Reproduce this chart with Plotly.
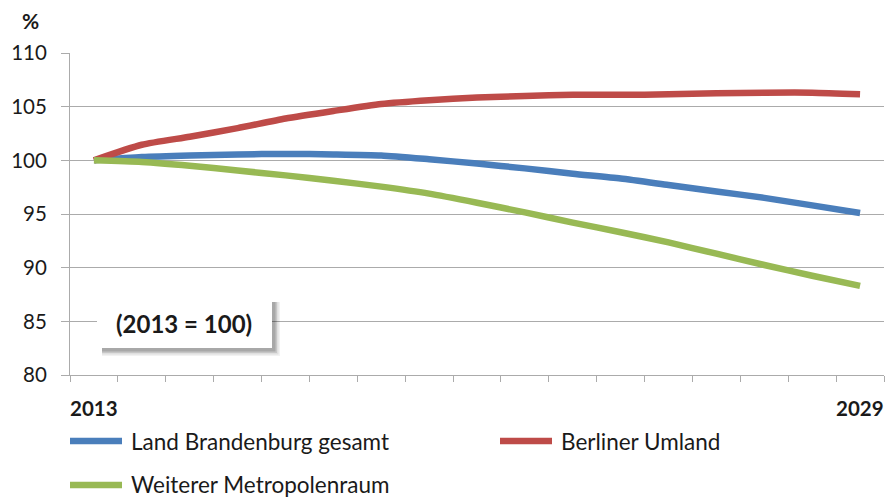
import plotly.graph_objects as go

# Population index by region, 2013 = 100
years = list(range(2013, 2030))
series_names = ["Land Brandenburg gesamt", "Berliner Umland", "Weiterer Metropolenraum"]
brandenburg = [100.0, 100.3, 100.45, 100.55, 100.6, 100.55, 100.45, 100.1, 99.7,
               99.25, 98.75, 98.3, 97.7, 97.1, 96.5, 95.8, 95.1]
umland = [100.0, 101.45, 102.2, 103.0, 103.9, 104.6, 105.25, 105.6, 105.85,
          106.0, 106.1, 106.1, 106.15, 106.25, 106.3, 106.3, 106.15]
metropolenraum = [100.0, 99.85, 99.5, 99.05, 98.6, 98.1, 97.55, 96.9, 96.05,
                  95.15, 94.2, 93.3, 92.35, 91.3, 90.25, 89.25, 88.3]
colors = ["#4A7EBB", "#BE4B48", "#98B954"]
y_ticks = [80, 85, 90, 95, 100, 105, 110]
x_labels = {2013: "2013", 2029: "2029"}
note_text = "(2013 = 100)"

FONT = "Lato, Carlito, 'Open Sans', sans-serif"
TEXT = "#1a1a1a"
GRID = "#ababab"

W, H = 887, 497
L, R, T, B = 70, 3, 53, 122
PW, PH = W - L - R, H - T - B


def px(x):
    return (x - L) / PW


def py(y):
    return (H - B - y) / PH


fig = go.Figure()
for name, vals, col in zip(series_names, [brandenburg, umland, metropolenraum], colors):
    fig.add_trace(go.Scatter(
        x=years, y=vals, mode="lines", name=name,
        line=dict(color=col, width=6.5, shape="spline", smoothing=0.6),
        showlegend=False, hoverinfo="x+y+name",
    ))

shapes = []
annotations = []

# legend drawn as swatches + labels
legend_pos = [(70, 441), (500, 441), (70, 485)]
for (lx, ly), name, col in zip(legend_pos, series_names, colors):
    shapes.append(dict(type="line", xref="paper", yref="paper",
                       x0=px(lx), x1=px(lx + 52), y0=py(ly), y1=py(ly),
                       line=dict(color=col, width=6.5)))
    annotations.append(dict(xref="paper", yref="paper", x=px(lx + 59), y=py(ly),
                            xanchor="left", yanchor="middle", showarrow=False,
                            text=name, font=dict(family=FONT, size=22.5, color=TEXT)))

# category labels at both ends of the axis
for yr, lab in x_labels.items():
    annotations.append(dict(xref="x", yref="paper", x=yr, y=py(408),
                            xanchor="center", yanchor="middle", showarrow=False,
                            text=f"<b>{lab}</b>", font=dict(family=FONT, size=20.5, color=TEXT)))

# unit label
annotations.append(dict(xref="paper", yref="paper", x=px(30), y=py(20),
                        xanchor="center", yanchor="middle", showarrow=False,
                        text="<b>%</b>", font=dict(family=FONT, size=21, color=TEXT)))

# base-year note box with a soft drop shadow
bx0, bx1, by0, by1 = 97, 272, 297, 348
for i, op in enumerate([0.05, 0.08, 0.11, 0.15]):
    off = 8 - i * 1.5
    shapes.append(dict(type="rect", xref="paper", yref="paper", layer="above",
                       x0=px(bx0 + 5), x1=px(bx1 + off), y0=py(by0 + 5), y1=py(by1 + off),
                       line=dict(width=0), fillcolor=f"rgba(0,0,0,{op})"))
shapes.append(dict(type="rect", xref="paper", yref="paper", layer="above",
                   x0=px(bx0), x1=px(bx1), y0=py(by0), y1=py(by1),
                   line=dict(width=0), fillcolor="white"))
annotations.append(dict(xref="paper", yref="paper", x=px(184), y=py(323),
                        xanchor="center", yanchor="middle", showarrow=False,
                        text=f"<b>{note_text}</b>", font=dict(family=FONT, size=24, color=TEXT)))

fig.update_layout(
    width=W, height=H,
    margin=dict(l=L, r=R, t=T, b=B, pad=0),
    paper_bgcolor="white", plot_bgcolor="white",
    shapes=shapes, annotations=annotations,
    xaxis=dict(
        range=[years[0] - 0.5, years[-1] + 0.5],
        tickvals=[y - 0.5 for y in years] + [years[-1] + 0.5],
        ticktext=[""] * (len(years) + 1),
        ticks="outside", ticklen=6, tickcolor=GRID, tickwidth=1,
        showgrid=False, zeroline=False,
        showline=True, linecolor=GRID, linewidth=1,
    ),
    yaxis=dict(
        range=[80, 110], tickvals=y_ticks,
        ticks="outside", ticklen=8, tickcolor=GRID, tickwidth=1,
        ticklabelstandoff=10,
        showgrid=True, gridcolor=GRID, gridwidth=1, zeroline=False,
        showline=True, linecolor=GRID, linewidth=1,
        tickfont=dict(family=FONT, size=20.5, color=TEXT),
    ),
)

fig.write_html("out.html")
